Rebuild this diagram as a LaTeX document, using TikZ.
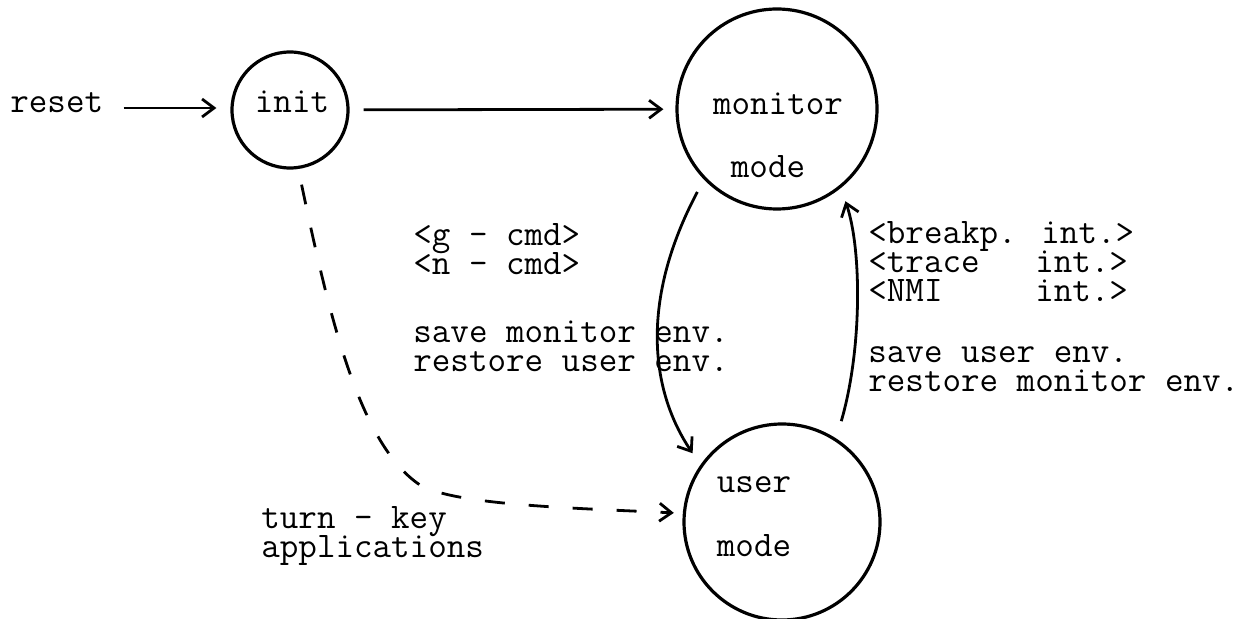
\documentclass[tikz,border=0pt]{standalone}
\usetikzlibrary{arrows.meta}
% fixed line pitch, as on a typewriter
\newcommand\typepitch{\fontsize{18pt}{14.5pt}\selectfont\ttfamily\lineskiplimit=-30pt\relax}
\begin{document}
\begin{tikzpicture}[x=0.5pt,y=-0.5pt,
  font=\typepitch,
  state/.style={draw, circle, line width=1.6pt, inner sep=0pt},
  block/.style={anchor=base west, inner sep=0pt, align=left},
  word/.style={anchor=mid, inner sep=0pt},
  arr/.style={line width=1.4pt, -{Straight Barb[length=6pt,width=9pt,line width=1.4pt]}},
  dashedarr/.style={arr, dash pattern=on 10pt off 12pt}]
\useasboundingbox (0,0) rectangle (1252,619);

% states
\node[state, minimum size=58pt] (init) at (290,110) {};
\node[word] (initt) at (292,108) {init};
\node[state, minimum size=100pt] (mon) at (777,109) {};
\node[word] (mont) at (778,110) {monitor};
\node[word] (monm) at (768,173) {mode};
\node[state, minimum size=98pt] (usr) at (782,522) {};
\node[word] (usrt) at (754,488) {user};
\node[word] (usrm) at (754,552) {mode};

% labels (anchored on the baseline of their last line)
\node[anchor=mid west, inner sep=0pt] (reset) at (10,108) {reset};
\node[block] (gcmd) at (413,275) {<g - cmd>\\<n - cmd>};
\node[block] (envl) at (413,372) {save monitor env.\\restore user env.};
\node[block] (ints) at (868,302) {<breakp. int.>\\<trace\ \ \ int.>\\<NMI\ \ \ \ \ int.>};
\node[block] (envr) at (868,392) {save user env.\\restore monitor env.};
\node[block] (turn) at (261,558) {turn - key\\applications};

% transitions
\draw[arr, line width=1.1pt, shorten <=10pt, shorten >=7pt]
  (reset.mid east) -- (init.west |- reset.mid east);
\draw[arr, shorten <=7pt, shorten >=6pt] (init) -- (mon);
\draw[arr, shorten <=7pt, shorten >=7pt]
  (mon.224) .. controls (640,300) and (650,390) .. (usr.145);
\draw[arr, shorten <=9pt, shorten >=7pt]
  (usr.57) .. controls (862,350) and (862,250) .. (mon.-51);
\draw[dashedarr, shorten <=8pt, shorten >=4.5pt]
  (init.-82) .. controls (330,320) and (360,445) .. (420,485)
  .. controls (455,505) and (570,508) .. (usr.175);
\end{tikzpicture}
\end{document}
